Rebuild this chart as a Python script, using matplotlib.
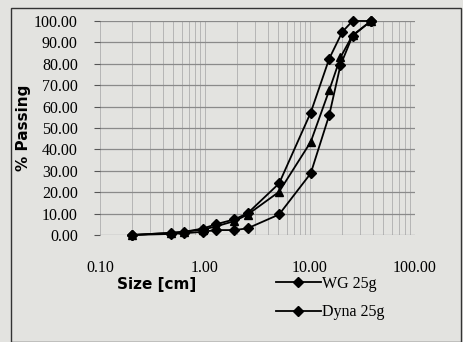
import matplotlib
matplotlib.use("Agg")
import matplotlib.pyplot as plt
from matplotlib.patches import Rectangle
from matplotlib.ticker import FixedLocator, LogLocator, NullFormatter

# Data
size_top = [0.2, 0.475, 0.635, 0.95, 1.27, 1.9, 2.54, 5.08, 10.16, 15.24, 20.3, 25.4, 38.1]
pass_top = [0.0, 1.0, 1.5, 3.0, 5.0, 7.3, 10.1, 24.1, 57.2, 82.4, 94.9, 100.0, 100.0]

size_mid = [0.2, 0.475, 0.635, 0.95, 1.27, 1.9, 2.54, 5.08, 10.16, 15.24, 19.5, 25.4, 38.1]
pass_mid = [0.0, 1.0, 1.5, 2.5, 4.0, 6.5, 9.5, 20.2, 43.5, 67.6, 83.0, 93.3, 100.0]

size_bot = [0.2, 0.475, 0.635, 0.95, 1.27, 1.9, 2.54, 5.08, 10.16, 15.24, 19.5, 25.4, 38.1]
pass_bot = [0.0, 0.5, 0.8, 1.5, 2.3, 2.3, 3.1, 9.6, 28.8, 56.0, 79.3, 93.0, 100.0]

legend_labels = ["WG 25g", "Dyna 25g"]
yticks = [0, 10, 20, 30, 40, 50, 60, 70, 80, 90, 100]
xticks = [0.1, 1, 10, 100]

bg = "#e3e3e0"
fig = plt.figure(figsize=(4.63, 3.42), dpi=100, facecolor=bg)
ax = fig.add_axes([100/463, 1-235/342, 315/463, 214/342])
ax.set_facecolor(bg)
ax.set_xscale("log")
ax.set_xlim(0.1, 100)
ax.set_ylim(0, 100)

serif = ["Liberation Serif", "DejaVu Serif"]
ax.yaxis.set_major_locator(FixedLocator(yticks))
ax.set_yticks(yticks)
ax.set_yticklabels([f"{v:.2f}" for v in yticks], fontfamily=serif, fontsize=11.5)
ax.set_xticks(xticks)
ax.set_xticklabels([f"{v:.2f}" for v in xticks], fontfamily=serif, fontsize=11.5)
ax.xaxis.set_minor_locator(LogLocator(base=10, subs=range(2, 10)))
ax.xaxis.set_minor_formatter(NullFormatter())
ax.tick_params(axis="x", which="both", length=0, pad=18)
ax.tick_params(axis="y", length=4, pad=12, color="#555555")

ax.grid(True, which="major", axis="y", color="#8a8a8a", lw=0.9)
ax.grid(True, which="both", axis="x", color="#b5b5b5", lw=0.7)
for s in ax.spines.values():
    s.set_visible(False)

kw = dict(color="black", lw=1.3, clip_on=False)
l1, = ax.plot(size_top, pass_top, marker="D", ms=5.5, **kw)
ax.plot(size_mid, pass_mid, marker="^", ms=6, **kw)
l2, = ax.plot(size_bot, pass_bot, marker="D", ms=5.5, **kw)

ax.set_ylabel("% Passing", fontfamily=["DejaVu Sans"], fontweight="bold", fontsize=11, labelpad=2)
fig.text(157/463, 1-284/342, "Size [cm]", fontfamily=["DejaVu Sans"], fontweight="bold",
         fontsize=11, ha="center", va="center")

leg = fig.legend([l1, l2], legend_labels, loc="center left", bbox_to_anchor=(268/463, 1-298/342),
                 frameon=False, prop={"family": serif, "size": 11.5}, handlelength=2.8,
                 handletextpad=0.1, labelspacing=0.8, borderpad=0)

fig.patches.append(Rectangle((11/463, 0), 450/463, 1-8/342, transform=fig.transFigure,
                             fill=False, ec="#333333", lw=1.0))
fig.savefig("out.png", dpi=100, facecolor=bg)
